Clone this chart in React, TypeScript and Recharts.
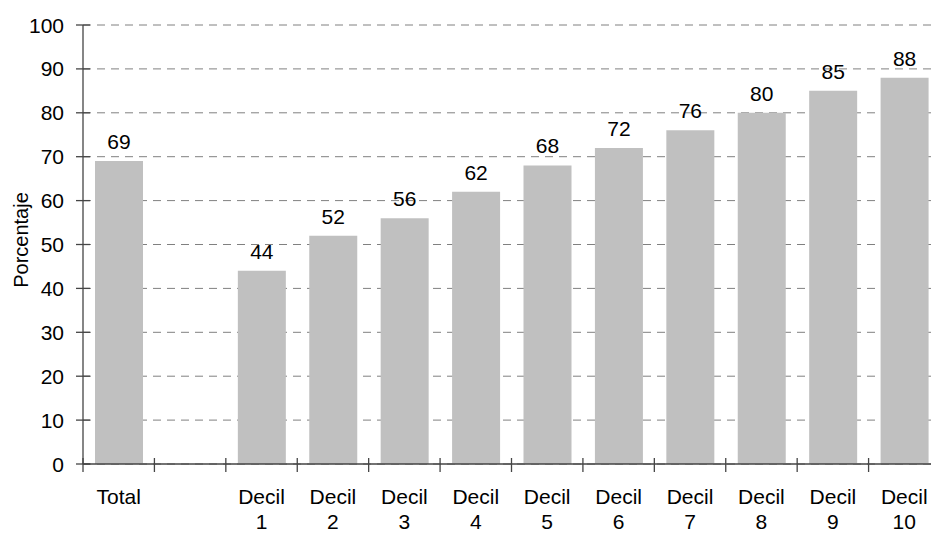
import React from 'react';
import { BarChart, Bar, XAxis, YAxis, CartesianGrid, LabelList } from 'recharts';

const categories = ['Total', ' ', 'Decil 1', 'Decil 2', 'Decil 3', 'Decil 4', 'Decil 5', 'Decil 6', 'Decil 7', 'Decil 8', 'Decil 9', 'Decil 10'];
const porcentajes: (number | null)[] = [69, null, 44, 52, 56, 62, 68, 72, 76, 80, 85, 88];
const yTicks = [0, 10, 20, 30, 40, 50, 60, 70, 80, 90, 100];

const data = categories.map((name, i) => ({ name, value: porcentajes[i] }));

const W = 945;
const H = 534;
const AXIS_X = 83;
const AXIS_Y = 464;
const PLOT_W = W - AXIS_X - 5;
const HALF_BAND = PLOT_W / categories.length / 2;
const FONT = '"Liberation Sans", Arial, sans-serif';
const AXIS_COLOR = '#454545';

function YTick({ y, payload }: any) {
  return (
    <g>
      <line x1={AXIS_X - 7} x2={AXIS_X + 7} y1={y} y2={y} stroke={AXIS_COLOR} strokeWidth={1.3} />
      <text x={64} y={y} textAnchor="end" dominantBaseline="central" fontSize={21} fill="#000">
        {payload.value}
      </text>
    </g>
  );
}

function XTick({ x, payload }: any) {
  const parts = String(payload.value).trim().split(' ');
  const left = x - HALF_BAND;
  return (
    <g>
      <line x1={left} x2={left} y1={AXIS_Y - 6} y2={AXIS_Y + 8} stroke={AXIS_COLOR} strokeWidth={1.3} />
      {parts[0] && (
        <text x={x} y={504} textAnchor="middle" fontSize={21} fill="#000">{parts[0]}</text>
      )}
      {parts[1] && (
        <text x={x} y={529} textAnchor="middle" fontSize={21} fill="#000">{parts[1]}</text>
      )}
    </g>
  );
}

function ValueLabel({ x, y, width, value }: any) {
  if (value == null) return null;
  return (
    <text x={x + width / 2} y={y - 12} textAnchor="middle" fontSize={21} fill="#000">
      {value}
    </text>
  );
}

export default function App() {
  return (
    <div style={{ position: 'absolute', left: 0, top: 0, width: 931, height: 534, overflow: 'hidden', background: '#fff' }}>
      <BarChart
        width={W}
        height={H}
        data={data}
        margin={{ top: 25, right: 5, bottom: 0, left: 0 }}
        style={{ fontFamily: FONT }}
      >
        <CartesianGrid vertical={false} stroke="#808080" strokeDasharray="8 6" />
        <XAxis
          dataKey="name"
          height={H - AXIS_Y}
          interval={0}
          tickLine={false}
          axisLine={{ stroke: AXIS_COLOR, strokeWidth: 1.6 }}
          tick={<XTick />}
        />
        <YAxis
          width={AXIS_X}
          domain={[0, 100]}
          ticks={yTicks}
          interval={0}
          tickLine={false}
          axisLine={{ stroke: AXIS_COLOR, strokeWidth: 1.3 }}
          tick={<YTick />}
          label={{
            content: () => (
              <text
                x={28}
                y={240}
                transform="rotate(-90 28 240)"
                textAnchor="middle"
                fontSize={20}
                fill="#000"
                fontFamily={FONT}
              >
                Porcentaje
              </text>
            ),
          }}
        />
        <Bar dataKey="value" fill="#C0C0C0" barSize={48} isAnimationActive={false}>
          <LabelList dataKey="value" content={<ValueLabel />} />
        </Bar>
      </BarChart>
    </div>
  );
}
